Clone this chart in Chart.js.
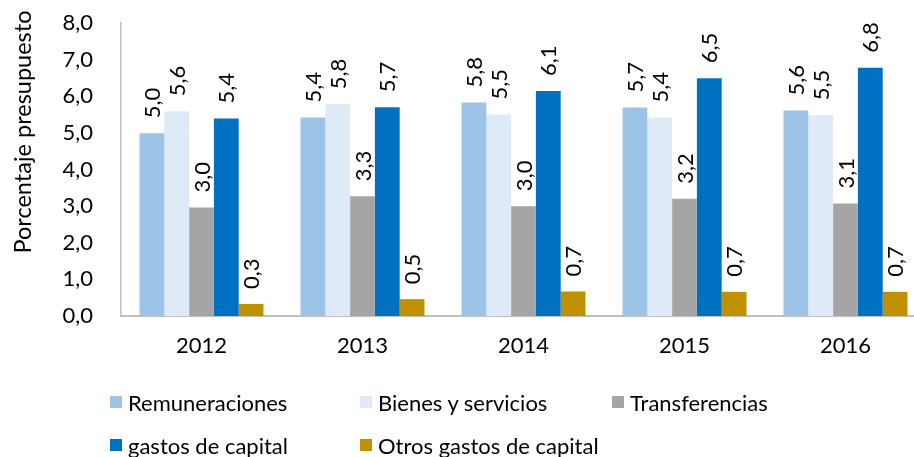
<!DOCTYPE html>
<html>
<head>
<meta charset="utf-8">
<script src="https://cdn.jsdelivr.net/npm/chart.js@4"></script>
<style>
  html, body { margin: 0; padding: 0; overflow: hidden; background: #fff; }
  #wrap { position: relative; width: 914px; height: 457px; overflow: hidden; }
  #chart { position: absolute; left: 0; top: 0; }
  .leg { position: absolute; font-family: Lato, sans-serif; font-size: 22px; color: #000;
         display: flex; align-items: center; white-space: nowrap; }
  .leg span.box { display: inline-block; width: 12px; height: 12px; margin-right: 6px; }
</style>
</head>
<body>
<div id="wrap">
  <canvas id="chart" width="926" height="457"></canvas>
  <div id="legend"></div>
</div>
<script>
const years = ['2012', '2013', '2014', '2015', '2016'];
const remuneraciones = [4.99, 5.42, 5.83, 5.69, 5.61];
const bienesServicios = [5.59, 5.78, 5.50, 5.42, 5.48];
const transferencias = [2.96, 3.27, 3.00, 3.20, 3.07];
const gastosCapital = [5.39, 5.70, 6.14, 6.49, 6.78];
const otrosGastosCapital = [0.33, 0.46, 0.67, 0.66, 0.66];
const yTicks = [0, 1, 2, 3, 4, 5, 6, 7, 8];

const FONT = 'Lato, sans-serif';
const FS = 22;
const fmt = v => v.toFixed(1).replace('.', ',');

const series = [
  { label: 'Remuneraciones', data: remuneraciones, color: '#9DC3E6' },
  { label: 'Bienes y servicios', data: bienesServicios, color: '#DEEBF7' },
  { label: 'Transferencias', data: transferencias, color: '#A5A5A5' },
  { label: 'gastos de capital', data: gastosCapital, color: '#0070C0' },
  { label: 'Otros gastos de capital', data: otrosGastosCapital, color: '#BF9000' },
];

// rotated value labels above each bar + y axis title
const valueLabels = {
  id: 'valueLabels',
  afterDatasetsDraw(chart) {
    const ctx = chart.ctx;
    ctx.save();
    ctx.font = FS + 'px ' + FONT;
    ctx.fillStyle = '#000';
    ctx.textAlign = 'left';
    ctx.textBaseline = 'middle';
    chart.data.datasets.forEach((ds, i) => {
      chart.getDatasetMeta(i).data.forEach((bar, j) => {
        ctx.save();
        ctx.translate(bar.x + 1, bar.y - 15);
        ctx.rotate(-Math.PI / 2);
        ctx.fillText(fmt(ds.data[j]), 0, 0);
        ctx.restore();
      });
    });
    // axis title
    const a = chart.chartArea;
    ctx.save();
    ctx.font = '23.5px ' + FONT;
    ctx.translate(23, a.top + (a.bottom - a.top) * 0.372);
    ctx.rotate(-Math.PI / 2);
    ctx.textAlign = 'center';
    ctx.fillText('Porcentaje presupuesto', 0, 0);
    ctx.restore();
    ctx.restore();
  }
};

const chart = new Chart(document.getElementById('chart'), {
  type: 'bar',
  data: {
    labels: years,
    datasets: series.map(s => ({
      label: s.label,
      data: s.data,
      backgroundColor: s.color,
      borderWidth: 0,
      categoryPercentage: 0.77,
      barPercentage: 1.0,
    })),
  },
  options: {
    responsive: false,
    animation: false,
    layout: { padding: { top: 23, left: 0, right: 0, bottom: 0 } },
    plugins: { legend: { display: false }, tooltip: { enabled: false } },
    scales: {
      x: {
        grid: { display: false },
        border: { display: true, color: '#BFBFBF', width: 2 },
        ticks: { color: '#000', font: { family: FONT, size: FS }, padding: 9 },
        afterFit: s => { s.height = 141; },
      },
      y: {
        min: 0, max: 8,
        afterBuildTicks: s => { s.ticks = yTicks.map(v => ({ value: v })); },
        grid: { display: false },
        border: { display: true, color: '#BFBFBF', width: 1.5 },
        ticks: { color: '#000', font: { family: FONT, size: FS }, padding: 20, callback: v => fmt(v) },
        afterFit: s => { s.width = 121; s.paddingTop = 0; s.paddingBottom = 0; },
      },
    },
  },
  plugins: [valueLabels],
});

// legend laid out as the reference grid
const legendPos = [[110, 402], [360, 402], [612, 402], [110, 445], [360, 445]];
const legendEl = document.getElementById('legend');
series.forEach((s, i) => {
  const d = document.createElement('div');
  d.className = 'leg';
  d.style.left = legendPos[i][0] + 'px';
  d.style.top = (legendPos[i][1] - 14) + 'px';
  d.style.height = '28px';
  d.innerHTML = '<span class="box" style="background:' + s.color + '"></span>' + s.label;
  legendEl.appendChild(d);
});
</script>
</body>
</html>
